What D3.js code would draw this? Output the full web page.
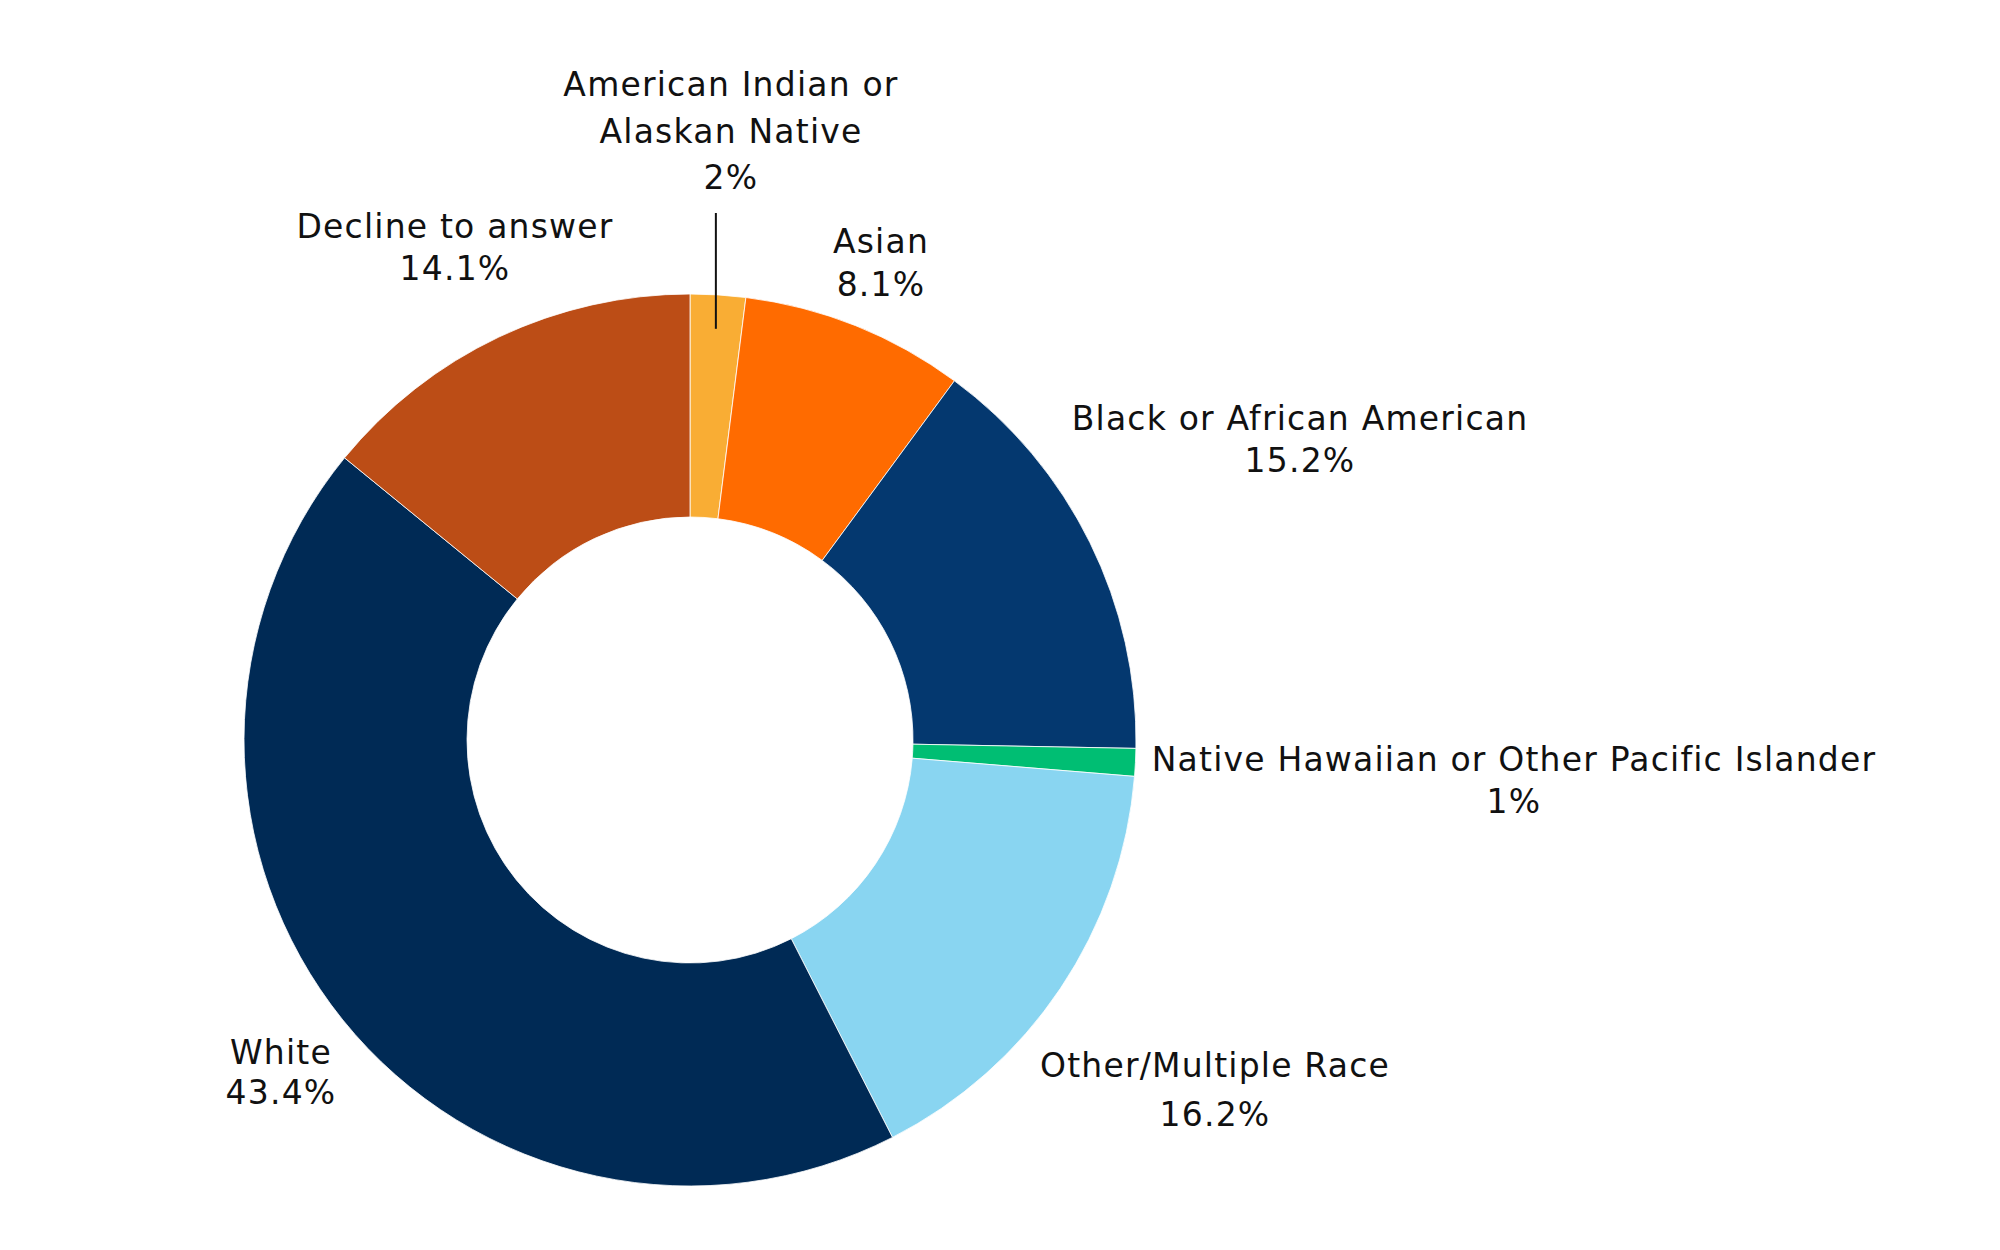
<!DOCTYPE html>
<html>
<head>
<meta charset="utf-8">
<script src="https://cdn.jsdelivr.net/npm/d3@7"></script>
<style>
  html, body { margin: 0; padding: 0; background: #ffffff; }
  svg { display: block; }
  text { font-family: "DejaVu Sans", sans-serif; fill: #111111; }
</style>
</head>
<body>
<svg id="chart" width="2000" height="1250"></svg>
<script>
// ---- data ----
const categories = [
  "American Indian or Alaskan Native",
  "Asian",
  "Black or African American",
  "Native Hawaiian or Other Pacific Islander",
  "Other/Multiple Race",
  "White",
  "Decline to answer"
];
const values = [2, 8.1, 15.2, 1, 16.2, 43.4, 14.1];
const labelLines = [
  ["American Indian or", "Alaskan Native"],
  ["Asian"],
  ["Black or African American"],
  ["Native Hawaiian or Other Pacific Islander"],
  ["Other/Multiple Race"],
  ["White"],
  ["Decline to answer"]
];
const colors = ["#F9AD34", "#FF6B00", "#04386F", "#00BE73", "#89D5F1", "#002A55", "#BC4D16"];

// ---- layout (positions / styles) ----
const cx = 690, cy = 740, rOuter = 446, rInner = 223;
const fontSize = 33;
const letterSpacing = 1.2;
const labelLayout = [
  { x: 731, y: 96, dy: 46.5 },
  { x: 881, y: 253, dy: 43 },
  { x: 1300, y: 430, dy: 42 },
  { x: 1514, y: 771, dy: 42 },
  { x: 1215, y: 1077, dy: 49 },
  { x: 281, y: 1064, dy: 40 },
  { x: 455, y: 238, dy: 41.5 }
];

const svg = d3.select("#chart");
const g = svg.append("g").attr("transform", `translate(${cx},${cy})`);

const pie = d3.pie().sort(null).value(d => d.value);
const arcs = pie(categories.map((c, i) => ({ name: c, value: values[i], i })));
const arc = d3.arc().innerRadius(rInner).outerRadius(rOuter);
const color = d3.scaleOrdinal().domain(categories).range(colors);

g.selectAll("path.slice")
  .data(arcs)
  .join("path")
  .attr("class", "slice")
  .attr("d", arc)
  .attr("fill", d => color(d.data.name))
  .attr("stroke", "#ffffff")
  .attr("stroke-width", 0.8);

// leader line for the small first slice
const leaderArc = d3.arc().innerRadius(412).outerRadius(412);
const lp = leaderArc.centroid(arcs[0]);
svg.append("line")
  .attr("x1", cx + lp[0]).attr("y1", cy + lp[1])
  .attr("x2", cx + lp[0]).attr("y2", 213)
  .attr("stroke", "#111111").attr("stroke-width", 2);

// labels
const labels = svg.selectAll("text.lbl")
  .data(arcs)
  .join("text")
  .attr("class", "lbl")
  .attr("text-anchor", "middle")
  .attr("font-size", fontSize)
  .attr("letter-spacing", letterSpacing);

labels.each(function(d, i) {
  const t = d3.select(this);
  const lay = labelLayout[i];
  const lines = labelLines[i].concat([values[i] + "%"]);
  lines.forEach((ln, k) => {
    t.append("tspan")
      .attr("x", lay.x)
      .attr("y", lay.y + k * lay.dy)
      .text(ln);
  });
});
</script>
</body>
</html>
